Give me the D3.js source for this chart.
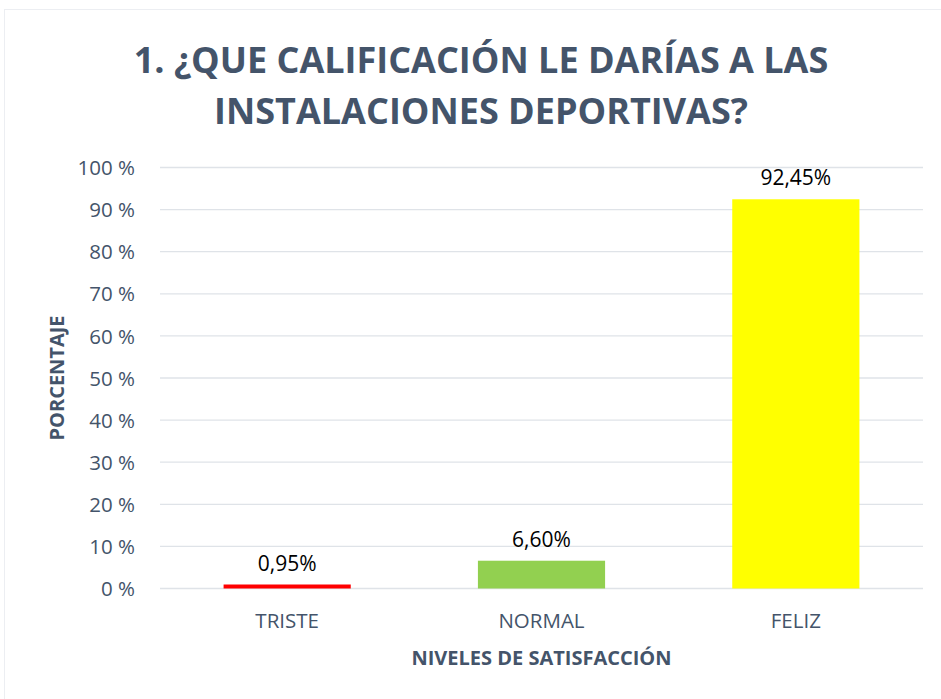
<!DOCTYPE html>
<html>
<head>
<meta charset="utf-8">
<script src="https://d3js.org/d3.v7.min.js"></script>
<style>
  body { margin: 0; background: #fff; }
  text { font-family: "Open Sans", "Noto Sans", sans-serif; }
</style>
</head>
<body>
<svg width="941" height="699"></svg>
<script>
// chart data
var categories = ["TRISTE", "NORMAL", "FELIZ"];
var values = [0.95, 6.60, 92.45];
var labels = ["0,95%", "6,60%", "92,45%"];
var barColors = ["#ff0000", "#92d050", "#ffff00"];
var yTicks = [0, 10, 20, 30, 40, 50, 60, 70, 80, 90, 100];
var titleLines = ["1. ¿QUE CALIFICACIÓN LE DARÍAS A LAS", "INSTALACIONES DEPORTIVAS?"];

var svg = d3.select("svg");
var slate = "#44546a";

// light outer frame
svg.append("rect")
	.attr("x", 4.5).attr("y", 9.5)
	.attr("width", 940).attr("height", 690)
	.attr("fill", "none")
	.attr("stroke", "#eceef2");

// plot area edges (don't call it "top", that's window.top)
var plotL = 160, plotR = 923, plotT = 167.5, plotB = 588.5;

var x = d3.scaleBand().domain(categories).range([plotL, plotR]).paddingInner(0.5).paddingOuter(0.25);
var y = d3.scaleLinear().domain([0, 100]).range([plotB, plotT]);

// title
svg.selectAll(".title")
	.data(titleLines)
	.enter()
	.append("text")
	.attr("class", "title")
	.attr("x", 481)
	.attr("y", function(d, i){ return 73 + i * 51; })
	.attr("text-anchor", "middle")
	.style("font-size", "36px")
	.style("font-weight", "bold")
	.attr("fill", slate)
	.text(function(d){ return d; });

// gridlines
svg.append("g")
	.selectAll("line")
	.data(yTicks)
	.enter()
	.append("line")
	.attr("x1", plotL).attr("x2", plotR)
	.attr("y1", function(d){ return y(d); })
	.attr("y2", function(d){ return y(d); })
	.attr("stroke", "#dfe3e8")
	.attr("stroke-width", 1.3);

// y axis labels via d3 axis
var yAxis = svg.append("g")
	.attr("transform", "translate(" + (plotL - 22) + ",0)")
	.call(d3.axisLeft(y).tickValues(yTicks).tickSize(0).tickFormat(function(d){ return d + " %"; }));
yAxis.select(".domain").remove();
yAxis.selectAll("text")
	.style("font-size", "20.5px")
	.attr("fill", slate)
	.attr("dy", "0.35em");

// bars
svg.selectAll(".bar")
	.data(values)
	.enter()
	.append("rect")
	.attr("class", "bar")
	.attr("x", function(d, i){ return x(categories[i]); })
	.attr("width", x.bandwidth())
	.attr("y", function(d){ return y(d); })
	.attr("height", function(d){ return y(0) - y(d); })
	.attr("fill", function(d, i){ return barColors[i]; });

// data labels
svg.selectAll(".lbl")
	.data(values)
	.enter()
	.append("text")
	.attr("class", "lbl")
	.attr("x", function(d, i){ return x(categories[i]) + x.bandwidth() / 2; })
	.attr("y", function(d){ return y(d) - 14; })
	.attr("text-anchor", "middle")
	.style("font-size", "21px")
	.attr("fill", "#000")
	.text(function(d, i){ return labels[i]; });

// x axis labels
var xAxis = svg.append("g")
	.attr("transform", "translate(0," + plotB + ")")
	.call(d3.axisBottom(x).tickSize(0));
xAxis.select(".domain").remove();
xAxis.selectAll("text")
	.style("font-size", "20.5px")
	.attr("fill", slate)
	.attr("dy", "0")
	.attr("y", 39);

// axis titles
svg.append("text")
	.attr("x", (plotL + plotR) / 2)
	.attr("y", 665)
	.attr("text-anchor", "middle")
	.style("font-size", "20px")
	.style("font-weight", "bold")
	.attr("fill", slate)
	.text("NIVELES DE SATISFACCIÓN");

svg.append("text")
	.attr("transform", "translate(64,378) rotate(-90)")
	.attr("text-anchor", "middle")
	.style("font-size", "20px")
	.style("font-weight", "bold")
	.attr("fill", slate)
	.text("PORCENTAJE");
</script>
</body>
</html>
